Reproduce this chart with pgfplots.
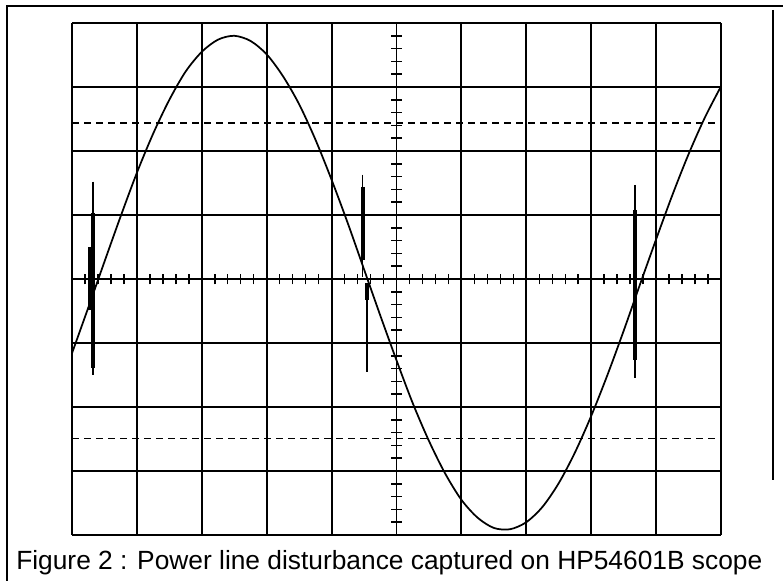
\documentclass[border=0pt]{standalone}
\usepackage{fontspec}
\setmainfont{Liberation Sans}
\usepackage{pgfplots}
\pgfplotsset{compat=1.18}
\begin{document}
\begin{tikzpicture}[x=0.75pt,y=0.75pt]
\useasboundingbox (0,0) rectangle (783,581);
% outer frame (left and top)
\draw[line width=1.6pt] (7,-20) -- (7,575) -- (800,575);
% right-hand divider
\draw[line width=1.2pt] (773,571) -- (773,101);
\begin{axis}[
  at={(72pt*0.75,46pt*0.75)}, anchor=south west,
  scale only axis, width=486.75pt, height=384pt,
  xmin=-5, xmax=5, ymin=-4, ymax=4,
  axis lines=middle,
  axis line style={-, black, line width=1.3pt},
  xtick={-5,...,5}, ytick={-4,...,4},
  xticklabels={}, yticklabels={},
  every tick label/.append style={opacity=0},
  minor x tick num=4, minor y tick num=4,
  grid=major,
  major grid style={black, line width=1.4pt},
  tick align=center,
  major tick length=8pt, minor tick length=8pt,
  every tick/.style={black, line width=1.1pt},
  clip=false,
]
% cursor lines
\addplot[black, line width=1.1pt, dash pattern=on 5pt off 4pt] coordinates {(-5,2.44) (5,2.44)};
\addplot[black, line width=1.1pt, dash pattern=on 5pt off 4pt] coordinates {(-5,-2.49) (5,-2.49)};
% waveform
\addplot[black, line width=1.3pt, smooth] coordinates {
(-5.00,-1.16) (-4.75,-0.45) (-4.50,0.27) (-4.25,0.98) (-4.00,1.66)
(-3.75,2.27) (-3.50,2.80) (-3.25,3.24) (-3.00,3.55) (-2.75,3.74)
(-2.50,3.80) (-2.25,3.72) (-2.00,3.51) (-1.75,3.17) (-1.50,2.73)
(-1.25,2.18) (-1.00,1.55) (-0.75,0.87) (-0.50,0.15) (-0.25,-0.57)
(0.00,-1.27) (0.25,-1.94) (0.50,-2.53) (0.75,-3.04) (1.00,-3.45)
(1.25,-3.73) (1.50,-3.89) (1.75,-3.91) (2.00,-3.80) (2.25,-3.56)
(2.50,-3.19) (2.75,-2.71) (3.00,-2.14) (3.25,-1.50) (3.50,-0.81)
(3.75,-0.09) (4.00,0.62) (4.25,1.31) (4.50,1.95) (4.75,2.52) (5.00,3.01)
};
% disturbance spikes
\addplot[black, line width=1.1pt] coordinates {(-4.68,1.52) (-4.68,-1.50)};
\addplot[black, line width=3pt] coordinates {(-4.68,1.03) (-4.68,-1.39)};
\addplot[black, line width=1.6pt] coordinates {(-4.73,0.50) (-4.73,-0.48)};
\addplot[black, line width=1.1pt] coordinates {(-0.52,1.63) (-0.52,0.03)};
\addplot[black, line width=3pt] coordinates {(-0.52,1.44) (-0.52,0.30)};
\addplot[black, line width=1.1pt] coordinates {(-0.455,-0.06) (-0.455,-1.45)};
\addplot[black, line width=3pt] coordinates {(-0.455,-0.06) (-0.455,-0.33)};
\addplot[black, line width=1.1pt] coordinates {(3.675,1.47) (3.675,-1.55)};
\addplot[black, line width=3pt] coordinates {(3.675,1.08) (3.675,-1.27)};
\end{axis}
\node[anchor=base west, inner sep=0pt, font=\fontsize{19.75}{23}\selectfont] at (16,11)
  {Figure 2 : Power line disturbance captured on HP54601B scope};
\end{tikzpicture}
\end{document}
